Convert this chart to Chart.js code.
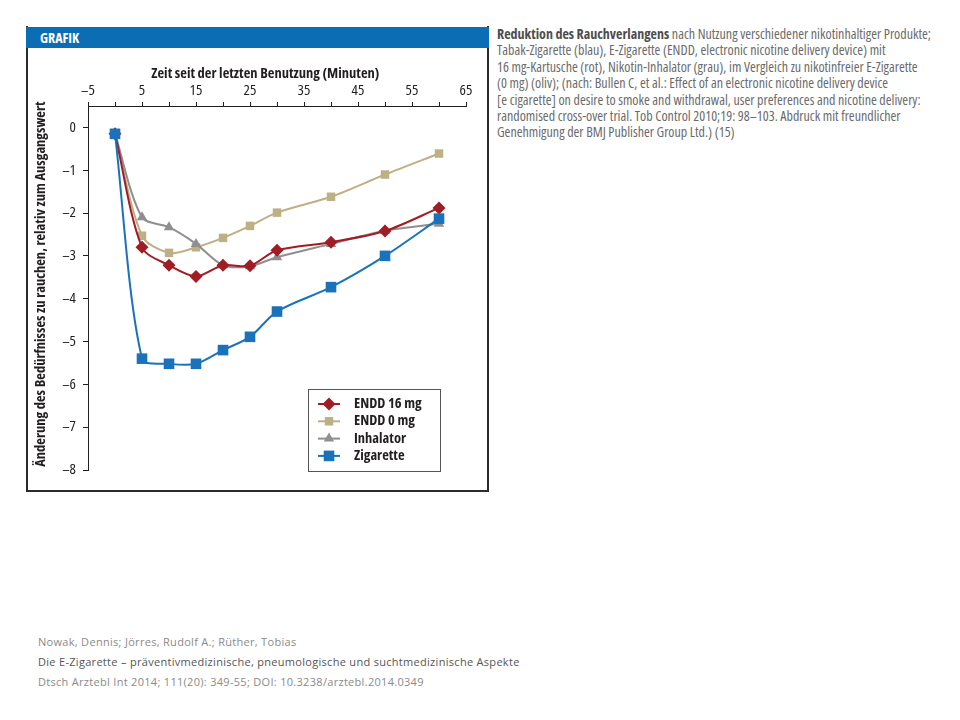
<!DOCTYPE html>
<html>
<head>
<meta charset="utf-8">
<script src="https://cdn.jsdelivr.net/npm/chart.js@4.4.1/dist/chart.umd.min.js"></script>
<style>
  body { margin: 0; background: #fff; width: 960px; height: 720px; position: relative; overflow: hidden; }
  .narrow { font-family: "Open Sans", sans-serif; font-stretch: 75%; }
  #panel { position: absolute; left: 26px; top: 26px; width: 459px; height: 464px; border: 2px solid #2b2b2b; border-top: none; }
  #head { position: absolute; left: 26px; top: 27px; width: 463px; height: 21px; background: #0b6eb4; color: #fff;
          font-weight: bold; font-size: 14px; line-height: 21px; padding-left: 14px; box-sizing: border-box; }
  #wrap { position: absolute; left: 29px; top: 49px; width: 457px; height: 442px; }
  #caption { position: absolute; left: 497px; top: 26px; font-size: 14px; line-height: 16.4px; color: #6b6b6b; white-space: nowrap; }
  #caption b { color: #4d4d4d; }
  #foot { position: absolute; left: 38px; top: 632px; font-family: "Open Sans", sans-serif; font-size: 11px; line-height: 20px; color: #8a8a8a; white-space: nowrap; letter-spacing: 0.3px; }
  #foot .t { color: #555; }
</style>
</head>
<body>
<div id="panel"></div>
<div id="head" class="narrow">GRAFIK</div>
<div id="wrap"><canvas id="chart" width="457" height="442"></canvas></div>
<div id="caption" class="narrow"><b>Reduktion des Rauchverlangens</b> nach Nutzung verschiedener nikotinhaltiger Produkte;<br>
Tabak-Zigarette (blau), E-Zigarette (ENDD, electronic nicotine delivery device) mit<br>
16 mg-Kartusche (rot), Nikotin-Inhalator (grau), im Vergleich zu nikotinfreier E-Zigarette<br>
(0 mg) (oliv); (nach: Bullen C, et al.: Effect of an electronic nicotine delivery device<br>
[e cigarette] on desire to smoke and withdrawal, user preferences and nicotine delivery:<br>
randomised cross-over trial. Tob Control 2010;19: 98–103. Abdruck mit freundlicher<br>
Genehmigung der BMJ Publisher Group Ltd.) (15)</div>
<div id="foot">Nowak, Dennis; Jörres, Rudolf A.; Rüther, Tobias<br>
<span class="t">Die E-Zigarette – präventivmedizinische, pneumologische und suchtmedizinische Aspekte</span><br>
Dtsch Arztebl Int 2014; 111(20): 349-55; DOI: 10.3238/arztebl.2014.0349</div>
<script>
const FONT = '"Open Sans", sans-serif';

// minutes since last use
const minutes = [0, 5, 10, 15, 20, 25, 30, 40, 50, 60];
const endd16 = [-0.15, -2.8, -3.22, -3.48, -3.22, -3.23, -2.87, -2.68, -2.42, -1.88];
const endd0 = [-0.15, -2.53, -2.93, -2.8, -2.58, -2.3, -1.99, -1.62, -1.1, -0.61];
const inhalator = [-0.15, -2.1, -2.33, -2.72, -3.22, -3.24, -3.03, -2.72, -2.41, -2.25];
const zigarette = [-0.15, -5.4, -5.52, -5.52, -5.2, -4.89, -4.3, -3.73, -3.0, -2.13];
const xTicks = [-5, 5, 15, 25, 35, 45, 55, 65];

const pts = arr => arr.map((v, i) => ({ x: minutes[i], y: v }));
const fmt = v => (v < 0 ? '\u2013' + Math.abs(v) : String(v));

function series(label, data, color, style, radius, order) {
  return {
    label, data: pts(data), borderColor: color, backgroundColor: color,
    borderWidth: 2, pointStyle: style, pointRadius: radius, pointHoverRadius: radius,
    pointBorderWidth: 0, tension: 0.3, order
  };
}

function drawMarker(ctx, style, r, x, y) {
  ctx.beginPath();
  if (style === 'rect') {
    const s = r * Math.SQRT1_2;
    ctx.rect(x - s, y - s, 2 * s, 2 * s);
  } else if (style === 'rectRot') {
    ctx.moveTo(x, y - r); ctx.lineTo(x + r, y); ctx.lineTo(x, y + r); ctx.lineTo(x - r, y);
  } else {
    const e = r * 3 / Math.sqrt(3), h = e * Math.sqrt(3) / 2;
    ctx.moveTo(x - e / 2, y + h / 3); ctx.lineTo(x, y - 2 * h / 3); ctx.lineTo(x + e / 2, y + h / 3);
  }
  ctx.closePath();
  ctx.fill();
}

// legend in a framed box inside the plot, lower right
const boxLegend = {
  id: 'boxLegend',
  afterDraw(chart) {
    const { ctx, chartArea } = chart;
    const bx = chartArea.left + 220, by = chartArea.top + 283, bw = 132, bh = 82;
    ctx.save();
    ctx.fillStyle = '#fff';
    ctx.fillRect(bx, by, bw, bh);
    ctx.strokeStyle = '#555';
    ctx.lineWidth = 1;
    ctx.strokeRect(bx + 0.5, by + 0.5, bw, bh);
    ctx.font = 'bold condensed 14.5px ' + FONT;
    ctx.textBaseline = 'middle';
    chart.data.datasets.forEach((ds, i) => {
      const y = by + 15 + i * 17.3;
      ctx.strokeStyle = ds.borderColor;
      ctx.lineWidth = 2;
      ctx.beginPath(); ctx.moveTo(bx + 10, y); ctx.lineTo(bx + 32, y); ctx.stroke();
      ctx.fillStyle = ds.backgroundColor;
      drawMarker(ctx, ds.pointStyle, ds.pointRadius, bx + 21, y);
      ctx.fillStyle = '#231f20';
      ctx.fillText(ds.label, bx + 46, y);
    });
    ctx.restore();
  }
};

new Chart(document.getElementById('chart'), {
  type: 'line',
  data: {
    datasets: [
      series('ENDD 16 mg', endd16, '#a11d24', 'rectRot', 6.5, 1),
      series('ENDD 0 mg', endd0, '#bcb084', 'rect', 6, 3),
      series('Inhalator', inhalator, '#8f8f91', 'triangle', 6, 2),
      series('Zigarette', zigarette, '#1a72bb', 'rect', 7.5, 0)
    ]
  },
  options: {
    responsive: false,
    animation: false,
    events: [],
    layout: { padding: { left: 0, top: 0, right: 20, bottom: 21 } },
    plugins: { legend: { display: false }, tooltip: { enabled: false } },
    scales: {
      x: {
        type: 'linear', position: 'top', min: -5, max: 65,
        afterFit: s => { s.height = 57; },
        afterBuildTicks: s => { s.ticks = [-5, 0, 5, 10, 15, 20, 25, 30, 35, 40, 45, 50, 55, 60, 65].map(v => ({ value: v })); },
        ticks: {
          autoSkip: false, maxRotation: 0, padding: 2,
          color: '#231f20', font: { family: FONT, size: 15, weight: 'condensed' },
          callback: v => (xTicks.includes(v) ? fmt(v) : '')
        },
        grid: { drawOnChartArea: false, tickLength: 4, color: '#231f20', lineWidth: 1 },
        border: { color: '#231f20', width: 1 },
        title: {
          display: true, text: 'Zeit seit der letzten Benutzung (Minuten)\u00a0\u00a0\u00a0\u00a0\u00a0\u00a0\u00a0\u00a0\u00a0',
          color: '#231f20', font: { family: FONT, size: 14.5, weight: 'bold condensed' }, padding: { top: 16, bottom: 0 }
        }
      },
      y: {
        min: -8, max: 0.5,
        afterFit: s => { s.width = 59; },
        afterBuildTicks: s => { s.ticks = s.ticks.filter(t => Number.isInteger(t.value)); },
        ticks: { stepSize: 1, padding: 7, color: '#231f20', font: { family: FONT, size: 15, weight: 'condensed' }, callback: v => fmt(v) },
        grid: { drawOnChartArea: false, tickLength: 5, color: '#231f20', lineWidth: 1 },
        border: { color: '#231f20', width: 1 },
        title: {
          display: true, text: '\u00a0\u00a0\u00a0Änderung des Bedürfnisses zu rauchen, relativ zum Ausgangswert',
          color: '#231f20', font: { family: FONT, size: 14.5, weight: 'bold condensed' }, padding: { top: 3, bottom: 0 }
        }
      }
    }
  },
  plugins: [boxLegend]
});
</script>
</body>
</html>
